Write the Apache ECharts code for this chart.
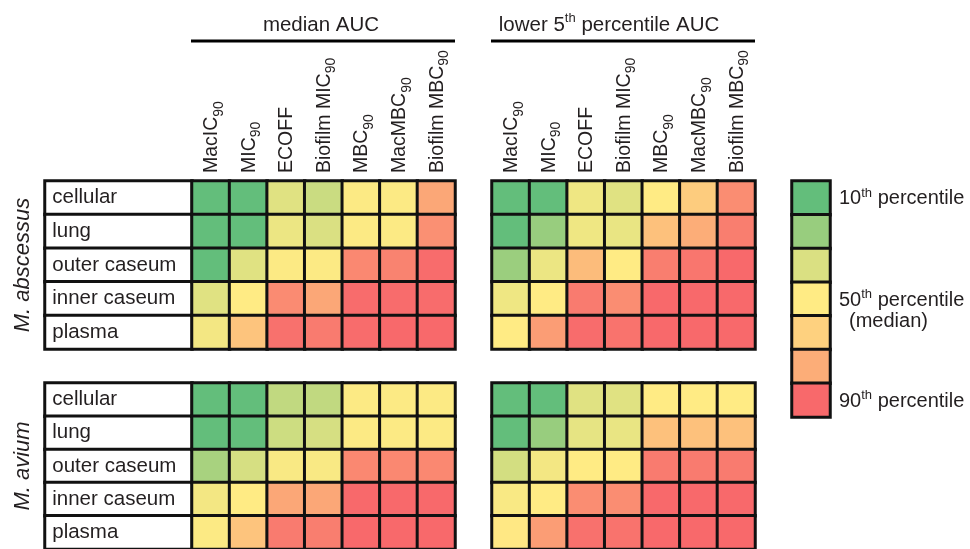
<!DOCTYPE html>
<html><head><meta charset="utf-8">
<script src="https://cdn.jsdelivr.net/npm/echarts@6/dist/echarts.min.js"></script>
<style>html,body{margin:0;padding:0;background:#fff}#c{width:970px;height:549px}</style>
</head><body><div id="c"></div>
<script>
const rows = ['cellular','lung','outer caseum','inner caseum','plasma'];
const cols = ['MacIC90','MIC90','ECOFF','Biofilm MIC90','MBC90','MacMBC90','Biofilm MBC90'];
// scale: 0 = 10th percentile, 0.5 = median, 1 = 90th percentile
const abscessusMedian = [
  [0, 0, 0.40, 0.33, 0.49, 0.49, 0.76],
  [0, 0, 0.44, 0.38, 0.49, 0.49, 0.85],
  [0, 0.40, 0.49, 0.49, 0.88, 0.90, 0.99],
  [0.40, 0.50, 0.87, 0.76, 0.99, 0.99, 0.99],
  [0.46, 0.65, 0.97, 0.93, 0.99, 1, 1]
];
const abscessusLower5 = [
  [0, 0, 0.45, 0.40, 0.50, 0.62, 0.86],
  [0, 0.17, 0.45, 0.43, 0.66, 0.74, 0.92],
  [0.18, 0.44, 0.68, 0.50, 0.92, 0.95, 1],
  [0.45, 0.50, 0.93, 0.86, 1, 1, 1],
  [0.50, 0.80, 0.99, 0.96, 1, 1, 1]
];
const aviumMedian = [
  [0, 0, 0.30, 0.30, 0.49, 0.49, 0.49],
  [0, 0, 0.34, 0.37, 0.49, 0.49, 0.49],
  [0.22, 0.37, 0.48, 0.48, 0.88, 0.88, 0.88],
  [0.46, 0.50, 0.76, 0.76, 1, 1, 1],
  [0.49, 0.65, 0.93, 0.92, 1, 1, 1]
];
const aviumLower5 = [
  [0, 0, 0.40, 0.40, 0.50, 0.50, 0.50],
  [0, 0.17, 0.42, 0.43, 0.66, 0.66, 0.66],
  [0.36, 0.46, 0.50, 0.50, 0.93, 0.93, 0.93],
  [0.48, 0.50, 0.86, 0.86, 1, 1, 1],
  [0.51, 0.80, 0.97, 0.96, 1, 1, 1]
];
const legendSteps = [0, 0.17, 0.38, 0.5, 0.6, 0.74, 1];
const legendLabels = ['10|th| percentile','','','50|th| percentile','','','90|th| percentile'];
const species = ['M. abscessus','M. avium'];
const panelTitles = ['median AUC','lower 5|th| percentile AUC'];

const FONT = '"Liberation Sans", Arial, sans-serif';
const TXT = '#231F20';
const BORDER = '#111';

function richSup(s){ // 'a|th|b' -> rich
  const p = s.split('|');
  if (p.length === 1) return '{a|' + p[0] + '}';
  return '{a|' + p[0] + '}{sup|' + p[1] + '}{a|' + p[2] + '}';
}
function colLabel(name){
  const m = name.match(/^(.*?)(90)$/);
  if (!m) return '{a|' + name + '}';
  return '{a|' + m[1] + '}{s|' + m[2] + '}';
}
function toData(mat){
  const d = [];
  mat.forEach((r, ri) => r.forEach((v, ci) => d.push([ci, ri, v])));
  return d;
}

const panelTop = [181, 383];
const panelH = 168;
const dataLeft = [192, 492];
const dataW = 263;

const grids = [], xAxes = [], yAxes = [], series = [];
const dataSeriesIdx = [];
const mats = [[abscessusMedian, abscessusLower5],[aviumMedian, aviumLower5]];

for (let s = 0; s < 2; s++) {
  grids.push({left: 45, top: panelTop[s], width: 147, height: panelH});
  let gi = grids.length - 1;
  xAxes.push({gridIndex: gi, type: 'category', data: ['x'], show: false});
  yAxes.push({gridIndex: gi, type: 'category', data: rows, inverse: true,
    axisLine: {show: false}, axisTick: {show: false}, axisLabel: {show: false}, splitLine: {show: false},
    name: species[s], nameLocation: 'middle', nameRotate: 90, nameGap: 11,
    nameTextStyle: {fontFamily: FONT, fontSize: 22, fontStyle: 'italic', color: TXT}});
  series.push({type: 'heatmap', xAxisIndex: gi, yAxisIndex: gi,
    data: rows.map((r, i) => [0, i, 0]),
    itemStyle: {color: '#fff', borderColor: BORDER, borderWidth: 3},
    label: {show: true, position: 'insideLeft', distance: 9, formatter: p => rows[p.value[1]],
      fontFamily: FONT, fontSize: 20.5, color: TXT},
    emphasis: {disabled: true}, silent: true});
  for (let p = 0; p < 2; p++) {
    grids.push({left: dataLeft[p], top: panelTop[s], width: dataW, height: panelH});
    gi = grids.length - 1;
    xAxes.push({gridIndex: gi, type: 'category', data: cols, position: 'top',
      axisLine: {show: false}, axisTick: {show: false}, splitLine: {show: false},
      axisLabel: {show: s === 0, rotate: -90, interval: 0, margin: 8, color: TXT, fontFamily: FONT,
        formatter: v => colLabel(v),
        rich: {a: {fontSize: 19.5, fontFamily: FONT, color: TXT, lineHeight: 22, verticalAlign: 'bottom'},
               s: {fontSize: 14, fontFamily: FONT, color: TXT, lineHeight: 22, verticalAlign: 'bottom', padding: [0,0,-4,0]}}}});
    yAxes.push({gridIndex: gi, type: 'category', data: rows, inverse: true, show: false});
    series.push({type: 'heatmap', xAxisIndex: gi, yAxisIndex: gi, data: toData(mats[s][p]),
      itemStyle: {borderColor: BORDER, borderWidth: 3}, emphasis: {disabled: true}, silent: true});
    dataSeriesIdx.push(series.length - 1);
  }
}
grids.push({left: 792, top: 181, width: 38, height: 236});
let lg = grids.length - 1;
xAxes.push({gridIndex: lg, type: 'category', data: ['x'], show: false});
yAxes.push({gridIndex: lg, type: 'category', data: legendSteps.map((v, i) => {
    const o = {value: String(i)};
    if (i === 3) o.textStyle = {padding: [22, 0, 0, 0]};
    return o;
  }), inverse: true, position: 'right',
  axisLine: {show: false}, axisTick: {show: false}, splitLine: {show: false},
  axisLabel: {margin: 9, interval: 0, align: 'left',
    formatter: (v, i) => {
      const t = legendLabels[i];
      if (!t) return '';
      let r = richSup(t);
      if (i === 3) r += '\n{m|(median)}';
      return r;
    },
    rich: {a: {fontSize: 20, fontFamily: FONT, color: TXT, lineHeight: 22, verticalAlign: 'bottom'},
           sup: {fontSize: 13, fontFamily: FONT, color: TXT, lineHeight: 22, verticalAlign: 'top'},
           m: {fontSize: 20, fontFamily: FONT, color: TXT, lineHeight: 22, padding: [0,0,0,10]}}}});
series.push({type: 'heatmap', xAxisIndex: lg, yAxisIndex: lg,
  data: legendSteps.map((v, i) => [0, i, v]),
  itemStyle: {borderColor: BORDER, borderWidth: 3}, emphasis: {disabled: true}, silent: true});
dataSeriesIdx.push(series.length - 1);

const titleCenters = [316, 604];
const option = {
  animation: false,
  backgroundColor: '#fff',
  title: panelTitles.map((t, i) => ({
    text: richSup(t), left: titleCenters[i], top: 7, textAlign: 'center',
    textStyle: {fontWeight: 'normal', rich: {
      a: {fontSize: 20.5, fontFamily: FONT, fontWeight: 'normal', color: TXT, lineHeight: 24, verticalAlign: 'bottom'},
      sup: {fontSize: 13, fontFamily: FONT, fontWeight: 'normal', color: TXT, lineHeight: 24, verticalAlign: 'top'}}}
  })),
  grid: grids, xAxis: xAxes, yAxis: yAxes, series: series,
  visualMap: {type: 'continuous', show: false, min: 0, max: 1, seriesIndex: dataSeriesIdx,
    inRange: {color: ['#63BE7B', '#FFEB84', '#F8696B']}},
  graphic: [
    {type: 'line', shape: {x1: 191, y1: 41, x2: 455, y2: 41}, style: {stroke: '#000', lineWidth: 3}},
    {type: 'line', shape: {x1: 491, y1: 41, x2: 755, y2: 41}, style: {stroke: '#000', lineWidth: 3}}
  ]
};
const chart = echarts.init(document.getElementById('c'), null, {renderer: 'canvas'});
chart.setOption(option);
</script></body></html>
